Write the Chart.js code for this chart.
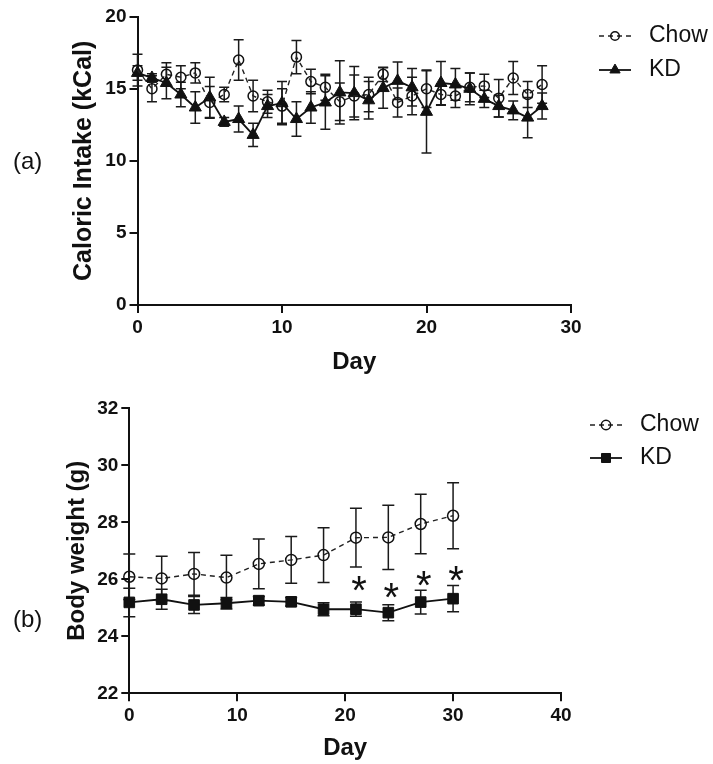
<!DOCTYPE html>
<html>
<head>
<meta charset="utf-8">
<script src="https://cdn.jsdelivr.net/npm/chart.js@4/dist/chart.umd.min.js"></script>
<style>
  body { margin: 0; background: #fff; }
  #wrap { position: relative; width: 713px; height: 764px; font-family: "Liberation Sans", Arial, sans-serif; }
  .box { position: absolute; left: 0; width: 713px; }
  .tag { position: absolute; left: 13px; font-size: 24px; line-height: 24px; color: #111; }
</style>
</head>
<body>
<div id="wrap">
  <div class="box" style="top:0;height:385px"><canvas id="calChart"></canvas></div>
  <div class="box" style="top:380px;height:384px"><canvas id="bwChart"></canvas></div>
  <div class="tag" style="top:149px">(a)</div>
  <div class="tag" style="top:607px">(b)</div>
</div>
<script>
// (a) caloric intake, days 0-28
const calDays = [0, 1, 2, 3, 4, 5, 6, 7, 8, 9, 10, 11, 12, 13, 14, 15, 16, 17, 18, 19, 20, 21, 22, 23, 24, 25, 26, 27, 28];
const chowCal = [16.3, 15.0, 16.0, 15.8, 16.1, 14.05, 14.6, 17.0, 14.5, 14.1, 13.8, 17.2, 15.5, 15.1, 14.1, 14.5, 14.6, 16.0, 14.05, 14.5, 15.0, 14.6, 14.5, 15.1, 15.2, 14.35, 15.75, 14.6, 15.3];
const chowCalErr = [1.1, 0.9, 0.8, 0.8, 0.7, 1.1, 0.5, 1.4, 1.1, 0.8, 1.2, 1.15, 0.85, 0.9, 1.3, 1.45, 1.2, 0.5, 1.0, 1.3, 1.3, 0.75, 0.8, 1.0, 0.8, 1.3, 1.15, 0.9, 1.3];
const kdCal = [16.1, 15.75, 15.4, 14.6, 13.7, 14.4, 12.7, 12.9, 11.8, 13.8, 14.0, 12.9, 13.7, 14.05, 14.75, 14.7, 14.2, 15.05, 15.55, 15.1, 13.4, 15.4, 15.3, 15.0, 14.3, 13.8, 13.5, 13.0, 13.8];
const kdCalErr = [0.5, 0.3, 1.1, 0.85, 1.1, 1.4, 0.3, 0.9, 0.8, 0.8, 1.5, 1.2, 1.1, 1.85, 2.2, 1.85, 1.3, 1.4, 1.3, 1.3, 2.85, 1.5, 1.1, 1.1, 0.6, 0.75, 0.65, 1.4, 0.9];

// (b) body weight, every 3 days
const bwDays = [0, 3, 6, 9, 12, 15, 18, 21, 24, 27, 30];
const chowBW = [26.09, 26.03, 26.19, 26.06, 26.54, 26.68, 26.85, 27.46, 27.47, 27.94, 28.23];
const chowBWErr = [0.8, 0.78, 0.75, 0.78, 0.87, 0.82, 0.96, 1.03, 1.13, 1.04, 1.16];
const kdBW = [25.19, 25.30, 25.10, 25.16, 25.25, 25.21, 24.95, 24.95, 24.83, 25.20, 25.32];
const kdBWErr = [0.5, 0.35, 0.3, 0.2, 0.15, 0.15, 0.23, 0.25, 0.28, 0.42, 0.46];

// significance marks (*) above KD
const sigDays = [21, 24, 27, 30];
const sigY = [25.86, 25.62, 26.03, 26.21];

const FONT = '"Liberation Sans", Arial, sans-serif';
const toXY = (xs, ys) => xs.map((x, i) => ({ x: x, y: ys[i] }));

// error bars under the markers
const errorBars = {
  id: 'errorBars',
  beforeDatasetsDraw(chart, args, opts) {
    const ctx = chart.ctx, xs = chart.scales.x, ys = chart.scales.y;
    const cap = opts.cap || 5;
    ctx.save();
    ctx.strokeStyle = '#1a1a1a';
    ctx.lineWidth = 1.5;
    chart.data.datasets.forEach(ds => {
      if (!ds.err) return;
      ds.data.forEach((p, i) => {
        const px = xs.getPixelForValue(p.x);
        const top = ys.getPixelForValue(p.y + ds.err[i]);
        const bot = ys.getPixelForValue(p.y - ds.err[i]);
        ctx.beginPath();
        ctx.moveTo(px, top); ctx.lineTo(px, bot);
        ctx.moveTo(px - cap, top); ctx.lineTo(px + cap, top);
        ctx.moveTo(px - cap, bot); ctx.lineTo(px + cap, bot);
        ctx.stroke();
      });
    });
    ctx.restore();
  }
};

// legend with a line sample and the marker, like the prism style
const sampleLegend = {
  id: 'sampleLegend',
  afterDraw(chart, args, opts) {
    if (!opts.rows) return;
    const ctx = chart.ctx;
    chart.data.datasets.forEach((ds, i) => {
      const y = opts.rows[i];
      ctx.save();
      ctx.strokeStyle = ds.borderColor;
      ctx.lineWidth = ds.borderWidth;
      ctx.setLineDash(ds.borderDash || []);
      ctx.beginPath();
      ctx.moveTo(opts.x0, y); ctx.lineTo(opts.x1, y);
      ctx.stroke();
      ctx.setLineDash([]);
      ctx.fillStyle = ds.pointBackgroundColor;
      ctx.strokeStyle = ds.pointBorderColor;
      ctx.lineWidth = ds.pointBorderWidth;
      Chart.helpers.drawPoint(ctx, { pointStyle: ds.pointStyle, radius: ds.pointRadius * 0.85, borderWidth: ds.pointBorderWidth, rotation: 0 }, (opts.x0 + opts.x1) / 2, y);
      ctx.fillStyle = '#111';
      ctx.font = '23px ' + FONT;
      ctx.textBaseline = 'middle';
      ctx.textAlign = 'left';
      ctx.fillText(ds.label, opts.textX, y);
      ctx.restore();
    });
  }
};

// asterisks for significant days
const stars = {
  id: 'stars',
  afterDatasetsDraw(chart, args, opts) {
    if (!opts.days) return;
    const ctx = chart.ctx, xs = chart.scales.x, ys = chart.scales.y;
    ctx.save();
    ctx.fillStyle = '#111';
    ctx.font = '40px ' + FONT;
    ctx.textAlign = 'center';
    ctx.textBaseline = 'alphabetic';
    const m = ctx.measureText('*');
    const off = (m.actualBoundingBoxAscent - m.actualBoundingBoxDescent) / 2;
    opts.days.forEach((d, i) => {
      ctx.fillText('*', xs.getPixelForValue(d) + 3, ys.getPixelForValue(opts.values[i]) + off);
    });
    ctx.restore();
  }
};

function axis(min, max, step, title, titleSize, fit, pad) {
  return {
    type: 'linear', min: min, max: max,
    ticks: { stepSize: step, color: '#111', padding: pad, font: { family: FONT, size: 19, weight: 'bold' } },
    grid: { display: true, drawOnChartArea: false, drawTicks: true, tickLength: 8, color: '#111', lineWidth: 2 },
    border: { display: true, color: '#111', width: 2 },
    title: { display: true, text: title, color: '#111', padding: 0, font: { family: FONT, size: titleSize, weight: 'bold' } },
    afterFit: fit
  };
}

function chowSet(xs, ys, err, r) {
  return {
    label: 'Chow', data: toXY(xs, ys), err: err, showLine: true, clip: false,
    borderColor: '#222', borderWidth: 1.4, borderDash: [5, 4],
    pointStyle: 'circle', pointRadius: r, pointBackgroundColor: 'rgba(255,255,255,0)',
    pointBorderColor: '#111', pointBorderWidth: 1.5
  };
}

function kdSet(xs, ys, err, style, r) {
  return {
    label: 'KD', data: toXY(xs, ys), err: err, showLine: true, clip: false,
    borderColor: '#111', borderWidth: 1.8,
    pointStyle: style, pointRadius: r, pointBackgroundColor: '#111',
    pointBorderColor: '#111', pointBorderWidth: 1
  };
}

const common = {
  responsive: true,
  maintainAspectRatio: false,
  animation: false,
  events: []
};

new Chart(document.getElementById('calChart'), {
  type: 'scatter',
  data: { datasets: [chowSet(calDays, chowCal, chowCalErr, 5), kdSet(calDays, kdCal, kdCalErr, 'triangle', 7)] },
  options: Object.assign({}, common, {
    layout: { padding: { left: 69, right: 142, top: 16.7, bottom: 8.6 } },
    scales: {
      x: axis(0, 30, 10, 'Day', 24, s => { s.height = 71.4; }, 3),
      y: axis(0, 20, 5, 'Caloric Intake (kCal)', 25, s => { s.width = 68.5; }, 3)
    },
    plugins: {
      legend: { display: false },
      tooltip: { enabled: false },
      errorBars: { cap: 5 },
      sampleLegend: { x0: 599, x1: 631, textX: 649, rows: [36, 70] }
    }
  }),
  plugins: [errorBars, sampleLegend]
});

new Chart(document.getElementById('bwChart'), {
  type: 'scatter',
  data: { datasets: [chowSet(bwDays, chowBW, chowBWErr, 5.5), kdSet(bwDays, kdBW, kdBWErr, 'rect', 7.5)] },
  options: Object.assign({}, common, {
    layout: { padding: { left: 62.6, right: 152, top: 28.3, bottom: 1.6 } },
    scales: {
      x: axis(0, 40, 10, 'Day', 24, s => { s.height = 69.1; }, 3),
      y: axis(22, 32, 2, 'Body weight (g)', 24, s => { s.width = 66.7; }, 3)
    },
    plugins: {
      legend: { display: false },
      tooltip: { enabled: false },
      errorBars: { cap: 6 },
      sampleLegend: { x0: 590, x1: 622, textX: 640, rows: [45, 78] },
      stars: { days: sigDays, values: sigY }
    }
  }),
  plugins: [errorBars, sampleLegend, stars]
});
</script>
</body>
</html>
